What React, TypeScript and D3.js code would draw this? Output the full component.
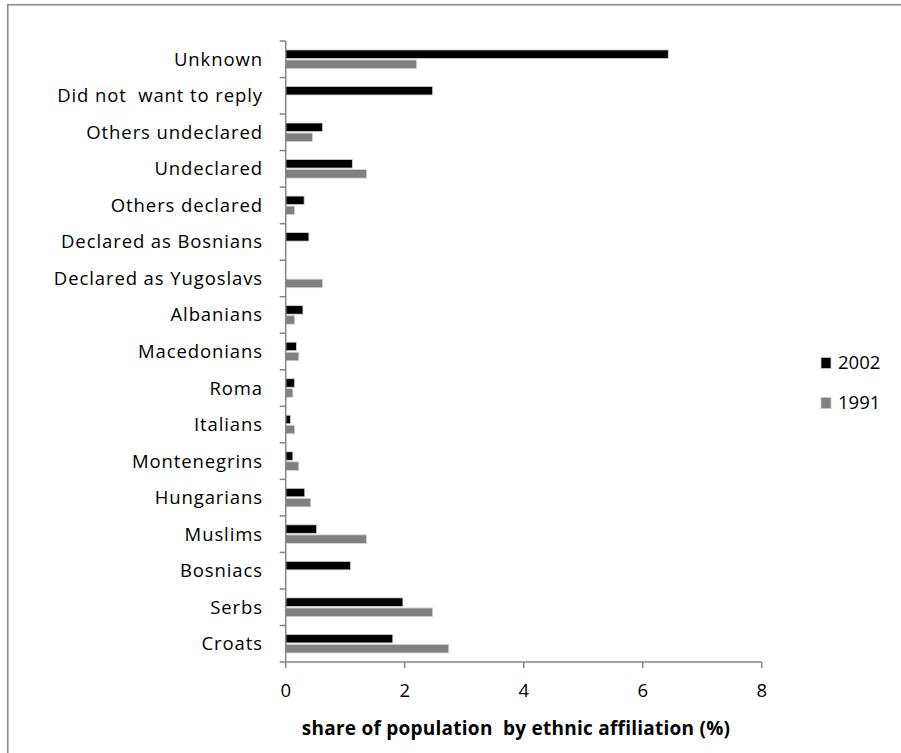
import React from "react";
import * as d3 from "d3";

const categories = [
  "Unknown",
  "Did not  want to reply",
  "Others undeclared",
  "Undeclared",
  "Others declared",
  "Declared as Bosnians",
  "Declared as Yugoslavs",
  "Albanians",
  "Macedonians",
  "Roma",
  "Italians",
  "Montenegrins",
  "Hungarians",
  "Muslims",
  "Bosniacs",
  "Serbs",
  "Croats",
];
const values2002 = [6.43, 2.47, 0.62, 1.12, 0.31, 0.39, 0, 0.29, 0.18, 0.15, 0.08, 0.12, 0.32, 0.52, 1.09, 1.97, 1.8];
const values1991 = [2.2, 0, 0.45, 1.36, 0.15, 0, 0.62, 0.15, 0.22, 0.12, 0.15, 0.22, 0.42, 1.36, 0, 2.47, 2.74];
const seriesNames = ["2002", "1991"];
const seriesColors = ["#000000", "#808080"];
const xTicks = [0, 2, 4, 6, 8];
const xTitle = "share of population  by ethnic affiliation (%)";

const FONT = "'Open Sans', Lato, sans-serif";

export default function App() {
  const W = 901;
  const H = 753;
  const x0 = 285.7;
  const x1 = 761.7;
  const yTop = 41;
  const yBot = 662;
  const x = d3.scaleLinear().domain([0, 8]).range([x0, x1]);
  const y = d3.scaleBand<string>().domain(categories).range([yTop, yBot]).padding(0);
  const bw = y.bandwidth();
  const barH = 8.5;
  const off = [bw * 0.245, bw * 0.52];
  const series = [values2002, values1991];
  const axisColor = "#868686";

  return (
    <div style={{ position: "absolute", left: 0, top: 0 }}>
      <svg width={W} height={H} style={{ display: "block", background: "#fff" }}>
        <rect x={7.75} y={4.75} width={W + 10} height={H + 10} fill="none" stroke="#8c8c8c" strokeWidth={1.6} />
        {/* bars */}
        {series.map((vals, si) =>
          categories.map((c, i) =>
            vals[i] > 0 ? (
              <rect
                key={`${si}-${i}`}
                x={x(0)}
                y={(y(c) as number) + off[si]}
                width={x(vals[i]) - x(0)}
                height={barH}
                fill={seriesColors[si]}
                stroke="#d4d4d4"
                strokeWidth={0.8}
              />
            ) : null
          )
        )}
        {/* y axis */}
        <line x1={x0} x2={x0} y1={yTop} y2={yBot} stroke={axisColor} strokeWidth={1.5} />
        {categories.map((c, i) => (
          <line key={`yt${i}`} x1={x0 - 6} x2={x0} y1={y(c) as number} y2={y(c) as number} stroke={axisColor} strokeWidth={1.5} />
        ))}
        <line x1={x0 - 6} x2={x0} y1={yBot} y2={yBot} stroke={axisColor} strokeWidth={1.5} />
        {categories.map((c, i) => (
          <text
            key={`yl${i}`}
            x={263}
            y={(y(c) as number) + bw / 2}
            dy="0.35em"
            textAnchor="end"
            fontFamily={FONT}
            fontSize={18.5}
            letterSpacing={0.9}
            fill="#000"
            style={{ whiteSpace: "pre" }}
          >
            {c}
          </text>
        ))}
        {/* x axis */}
        <line x1={x0} x2={x1} y1={yBot} y2={yBot} stroke={axisColor} strokeWidth={1.5} />
        {xTicks.map((t) => (
          <g key={`xt${t}`}>
            <line x1={x(t)} x2={x(t)} y1={yBot} y2={yBot + 6} stroke={axisColor} strokeWidth={1.5} />
            <text x={x(t)} y={691} dy="0.35em" textAnchor="middle" fontFamily={FONT} fontSize={18.5} fill="#000">
              {t}
            </text>
          </g>
        ))}
        <text
          x={516}
          y={728}
          dy="0.35em"
          textAnchor="middle"
          fontFamily={FONT}
          fontSize={19}
          fontWeight="bold"
          letterSpacing={0.25}
          fill="#000"
          style={{ whiteSpace: "pre" }}
        >
          {xTitle}
        </text>
        {/* legend */}
        {seriesNames.map((s, si) => {
          const cy = 363 + si * 40;
          return (
            <g key={`lg${s}`}>
              <rect x={821} y={cy - 5.5} width={10} height={11} fill={seriesColors[si]} stroke="#c8c8c8" strokeWidth={0.8} />
              <text x={838} y={cy} dy="0.35em" fontFamily={FONT} fontSize={18.5} fill="#000">
                {s}
              </text>
            </g>
          );
        })}
      </svg>
    </div>
  );
}
